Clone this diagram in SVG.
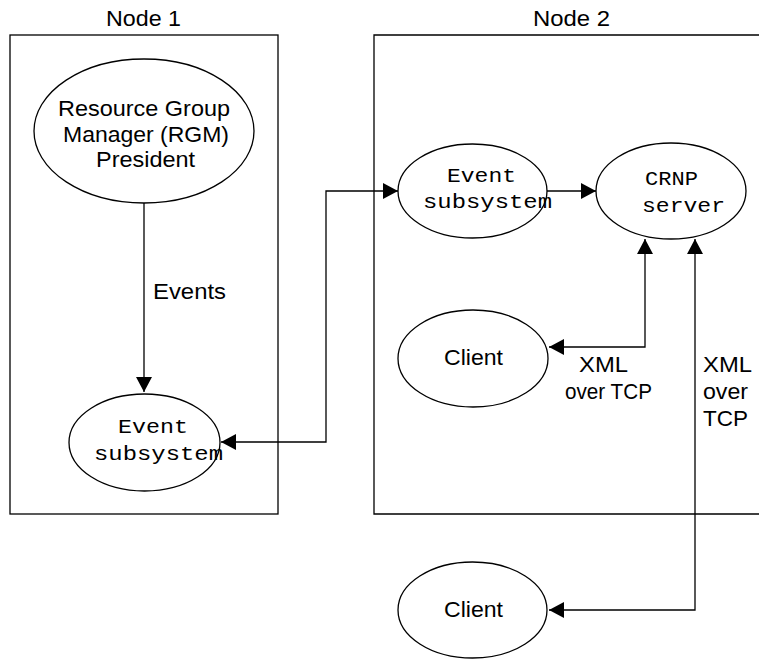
<svg xmlns="http://www.w3.org/2000/svg" width="759" height="659" viewBox="0 0 759 659">
<defs>
<marker id="ah" viewBox="0 0 15 16" refX="15" refY="8" markerWidth="15" markerHeight="16" markerUnits="userSpaceOnUse" orient="auto-start-reverse">
<path d="M0,0 L15,8 L0,16 z" fill="#000"/>
</marker>
</defs>
<style>
.box{fill:none;stroke:#000;stroke-width:1.3}
.node{fill:#fff;stroke:#000;stroke-width:1.3}
.conn{fill:none;stroke:#000;stroke-width:1.3}
.sans{font-family:"Liberation Sans",Arial,Helvetica,sans-serif;font-size:22px;fill:#000}
.mono{font-family:"Liberation Mono","Courier New",monospace;font-size:21px;fill:#000}
</style>
<rect width="759" height="659" fill="#fff"/>
<g id="node1-box">
<rect class="box" x="10" y="35" width="268" height="479"/>
<text class="sans" x="143.5" y="26" text-anchor="middle" textLength="75" lengthAdjust="spacingAndGlyphs">Node 1</text>
</g>
<g id="node2-box">
<path class="box" d="M760,35 H374 V514 H760"/>
<text class="sans" x="571.5" y="26" text-anchor="middle" textLength="77" lengthAdjust="spacingAndGlyphs">Node 2</text>
</g>
<g id="connectors">
<path class="conn" d="M144,202 V392" marker-end="url(#ah)"/>
<path class="conn" d="M221,442 H326 V191 H398" marker-start="url(#ah)" marker-end="url(#ah)"/>
<path class="conn" d="M547,191 H596" marker-end="url(#ah)"/>
<path class="conn" d="M549,347 H645 V239" marker-start="url(#ah)" marker-end="url(#ah)"/>
<path class="conn" d="M549,610 H695 V239" marker-start="url(#ah)" marker-end="url(#ah)"/>
<text class="sans" x="153" y="298.5" textLength="73" lengthAdjust="spacingAndGlyphs">Events</text>
<text class="sans" x="579" y="372" textLength="49" lengthAdjust="spacingAndGlyphs">XML</text>
<text class="sans" x="565" y="399" textLength="87" lengthAdjust="spacingAndGlyphs">over TCP</text>
<text class="sans" x="703" y="372" textLength="49" lengthAdjust="spacingAndGlyphs">XML</text>
<text class="sans" x="703" y="399" textLength="45" lengthAdjust="spacingAndGlyphs">over</text>
<text class="sans" x="703" y="426" textLength="45" lengthAdjust="spacingAndGlyphs">TCP</text>
</g>
<g id="rgm">
<ellipse class="node" cx="144" cy="131" rx="110" ry="72"/>
<text class="sans" x="144" y="116" text-anchor="middle" textLength="172" lengthAdjust="spacingAndGlyphs">Resource Group</text>
<text class="sans" x="146" y="142" text-anchor="middle" textLength="166" lengthAdjust="spacingAndGlyphs">Manager (RGM)</text>
<text class="sans" x="145.5" y="167" text-anchor="middle" textLength="99" lengthAdjust="spacingAndGlyphs">President</text>
</g>
<g id="event1">
<ellipse class="node" cx="144.5" cy="442.5" rx="75.5" ry="48.5"/>
<text class="mono" x="118" y="433" textLength="70" lengthAdjust="spacingAndGlyphs">Event</text>
<text class="mono" x="94" y="460" textLength="129" lengthAdjust="spacingAndGlyphs">subsystem</text>
</g>
<g id="event2">
<ellipse class="node" cx="472.5" cy="191" rx="74.5" ry="47"/>
<text class="mono" x="447" y="182" textLength="69" lengthAdjust="spacingAndGlyphs">Event</text>
<text class="mono" x="423" y="208" textLength="129" lengthAdjust="spacingAndGlyphs">subsystem</text>
</g>
<g id="crnp">
<ellipse class="node" cx="671" cy="191" rx="75" ry="48"/>
<text class="mono" x="645" y="185" textLength="53" lengthAdjust="spacingAndGlyphs">CRNP</text>
<text class="mono" x="642" y="212" textLength="83" lengthAdjust="spacingAndGlyphs">server</text>
</g>
<g id="client1">
<ellipse class="node" cx="473" cy="358.5" rx="75" ry="48.5"/>
<text class="sans" x="473.5" y="365" text-anchor="middle" textLength="59" lengthAdjust="spacingAndGlyphs">Client</text>
</g>
<g id="client2">
<ellipse class="node" cx="472.5" cy="610" rx="74.5" ry="48"/>
<text class="sans" x="473.5" y="617" text-anchor="middle" textLength="59" lengthAdjust="spacingAndGlyphs">Client</text>
</g>
</svg>
